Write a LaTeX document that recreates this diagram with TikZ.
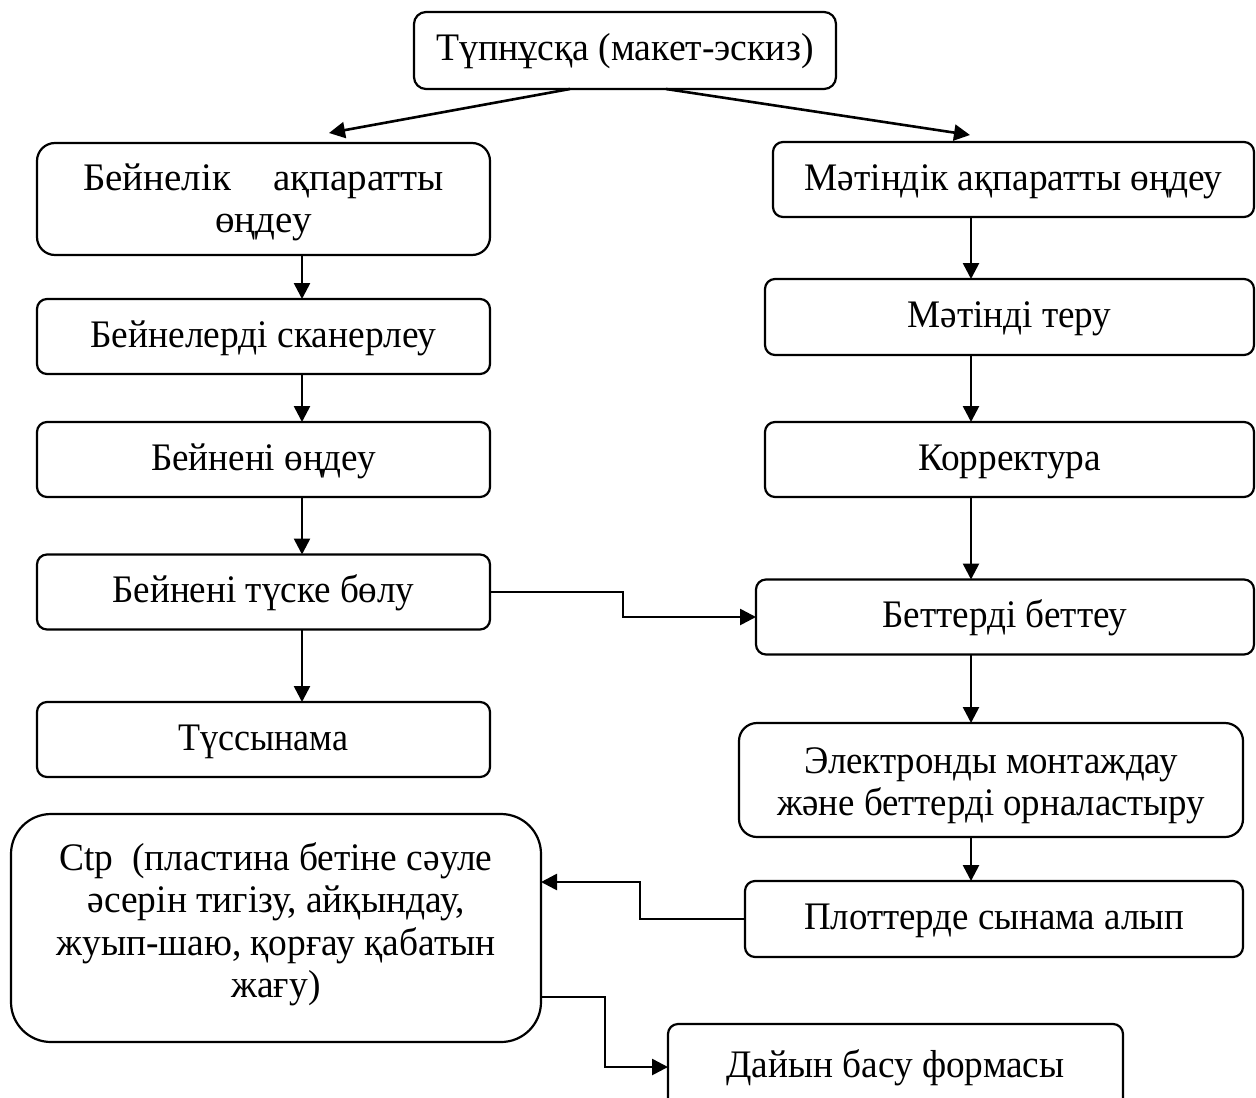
\documentclass[tikz,border=0pt]{standalone}
\usepackage{fontspec}
\setmainfont{Liberation Serif}
\usepackage{graphicx}
\usetikzlibrary{arrows.meta,calc}
\newcommand\fitw[2]{\setbox0=\hbox{#2}\pgfmathsetmacro\fitsx{#1*0.5/\the\wd0}\scalebox{\fitsx}[1]{\box0}}
\begin{document}
\begin{tikzpicture}[x=0.5pt,y=-0.5pt,
  box/.style={draw,line width=1.1pt,rounded corners=5pt,inner sep=0pt,outer sep=0pt,align=center,
    font=\fontsize{19.5}{21.25}\selectfont,text height=16.5pt,text depth=6pt},
  multi/.style={text height=0pt,text depth=#1},
  arr/.style={line width=1.3pt,-{Triangle[length=8pt,width=8pt]}}]
\clip (0,0) rectangle (1256,1097);
\fill[white] (0,0) rectangle (1256,1097);
% nodes
\node[box,rounded corners=6pt,minimum width=211pt,minimum height=38.5pt] (top) at (625,50.5) {\fitw{377}{Түпнұсқа (макет-эскиз)}};
\node[box,multi=9pt,rounded corners=9pt,minimum width=226.5pt,minimum height=56pt] (L1) at (263.5,199) {\begin{tabular}[t]{@{}c@{}}\makebox[180.5pt][s]{Бейнелік ақпаратты}\\өңдеу\end{tabular}};
\node[box,minimum width=226.5pt,minimum height=37.5pt] (L2) at (263.5,336.5) {\fitw{346}{Бейнелерді сканерлеу}};
\node[box,minimum width=226.5pt,minimum height=37.5pt] (L3) at (263.5,459.5) {\fitw{225}{Бейнені өңдеу}};
\node[box,minimum width=226.5pt,minimum height=37.5pt] (L4) at (263.5,592) {\fitw{302}{Бейнені түске бөлу}};
\node[box,minimum width=226.5pt,minimum height=37.5pt] (L5) at (263.5,739.5) {\fitw{170}{Түссынама}};
\node[box,minimum width=240.5pt,minimum height=37.5pt] (R1) at (1013.5,179.5) {\fitw{418}{Мәтіндік ақпаратты өңдеу}};
\node[box,minimum width=244.5pt,minimum height=38pt] (R2) at (1009.5,317) {\fitw{204}{Мәтінді теру}};
\node[box,minimum width=244.5pt,minimum height=37.5pt] (R3) at (1009.5,459.5) {\fitw{183}{Корректура}};
\node[box,minimum width=249pt,minimum height=37.5pt] (R4) at (1005,617) {\fitw{245}{Беттерді беттеу}};
\node[box,multi=7pt,rounded corners=9pt,minimum width=252pt,minimum height=57pt] (R5) at (991,780) {\fitw{428}{\begin{tabular}[t]{@{}c@{}}Электронды монтаждау\\және беттерді орналастыру\end{tabular}}};
\node[box,minimum width=249pt,minimum height=38pt] (R6) at (994,919) {\fitw{380}{Плоттерде сынама алып}};
\node[box,multi=58pt,rounded corners=20pt,minimum width=265pt,minimum height=114pt] (Ctp) at (276,928) {\fitw{439}{\begin{tabular}[t]{@{}c@{}}Ctp\ \ (пластина бетіне сәуле\\әсерін тигізу, айқындау,\\жуып-шаю, қорғау қабатын\\жағу)\end{tabular}}};
\node[box,minimum width=227.5pt,minimum height=43pt] (D) at (895.5,1067) {\fitw{338}{Дайын басу формасы}};
% connectors
\coordinate (tl) at (329,133);
\coordinate (tr) at (970,135);
\draw[arr] ([xshift=-27.5pt]top.south) -- (tl);
\draw[arr] ([xshift=20.5pt]top.south) -- (tr);
\coordinate (lc) at (302,0);
\coordinate (rc) at (971,0);
\foreach \a/\b in {L1/L2,L2/L3,L3/L4,L4/L5} \draw[arr] (\a.south -| lc) -- (\b.north -| lc);
\foreach \a/\b in {R1/R2,R2/R3,R3/R4,R4/R5,R5/R6} \draw[arr] (\a.south -| rc) -- (\b.north -| rc);
\coordinate (m1) at (623,0);
\draw[arr] (L4.east) -- (L4.east -| m1) -- (R4.west -| m1) -- (R4.west);
\coordinate (m2) at (640,882);
\draw[arr] (R6.west) -| (m2) -- (Ctp.east |- m2);
\coordinate (m3) at (605,997);
\draw[arr] (Ctp.east |- m3) -- (m3) |- (D.west);
\end{tikzpicture}
\end{document}
